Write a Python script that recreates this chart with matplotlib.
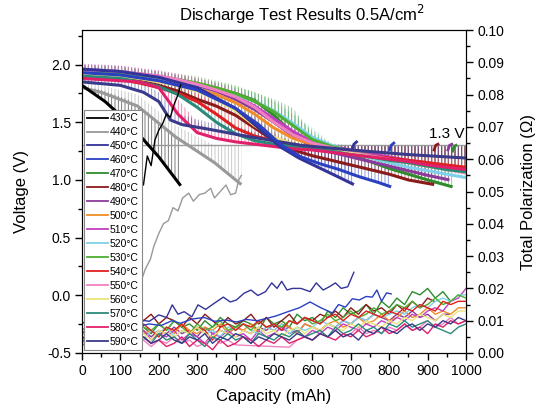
import matplotlib
matplotlib.use("Agg")
import matplotlib.pyplot as plt
from matplotlib.lines import Line2D
from matplotlib.ticker import MultipleLocator, FormatStrFormatter

plt.rcParams['font.family'] = ['Liberation Sans', 'DejaVu Sans']
plt.rcParams['hatch.linewidth'] = 0.6

temps = ["430°C", "440°C", "450°C", "460°C", "470°C", "480°C", "490°C", "500°C", "510°C",
         "520°C", "530°C", "540°C", "550°C", "560°C", "570°C", "580°C", "590°C"]
colors = ["#000000", "#999999", "#333399", "#2a40c0", "#2e8b2e", "#8b1a1a", "#8b3a9b", "#f28c28",
          "#c040c0", "#7fd0e8", "#4caf30", "#e02020", "#f080c0", "#ece47a", "#2a8a7a", "#e0206a",
          "#3a3a8a"]

grid50 = [0, 50, 100, 150, 200, 250, 300, 350, 400, 450, 500, 550, 600, 650, 700, 750, 800,
          850, 900, 950, 1000]
grid20 = [0, 20, 40, 60, 80, 100, 120, 140, 160, 180, 200, 220, 240, 260, 280, 300, 320, 340,
          360, 380, 400, 420, 440, 460, 480, 500, 520, 540, 560, 580, 600, 620, 640, 660, 680,
          700, 720, 740, 760, 780, 800, 820, 840, 860, 880, 900, 920, 940, 960, 980, 1000]

# ---- voltage (loaded) curves, capacity in mAh ----
volt_cap = [
    [0, 60, 120, 200, 257],                                   # 430
    [0, 50, 145, 245, 345, 415],                              # 440
    [0, 100, 200, 300, 400, 460, 515, 565, 615, 665, 708],    # 450
    [0, 100, 200, 300, 400, 460, 520, 570, 620, 670, 720, 770, 805],  # 460
    grid50[:19] + [965],                                      # 470
    grid50[:18] + [917],                                      # 480
    grid50[:19] + [957],                                      # 490
    grid50, grid50, grid50, grid50, grid50, grid50, grid50, grid50, grid50,  # 500-580
    [0, 100, 160, 200, 230, 260, 330, 410, 570, 700, 850, 1000],  # 590
]
volt = [
    [1.82, 1.68, 1.50, 1.20, 0.95],
    [1.80, 1.76, 1.64, 1.37, 1.15, 0.96],
    [1.96, 1.94, 1.89, 1.80, 1.62, 1.45, 1.29, 1.19, 1.11, 1.03, 0.96],
    [1.93, 1.91, 1.86, 1.78, 1.62, 1.48, 1.30, 1.20, 1.14, 1.09, 1.03, 0.98, 0.94],
    [1.92, 1.92, 1.91, 1.89, 1.87, 1.85, 1.82, 1.79, 1.75, 1.69, 1.56, 1.40, 1.32, 1.27, 1.21,
     1.16, 1.10, 1.05, 1.00, 0.94],
    [1.90, 1.89, 1.88, 1.86, 1.82, 1.77, 1.70, 1.64, 1.56, 1.45, 1.34, 1.26, 1.21, 1.17, 1.13,
     1.09, 1.05, 1.00, 0.96],
    [1.95, 1.94, 1.93, 1.91, 1.89, 1.86, 1.82, 1.77, 1.70, 1.61, 1.50, 1.38, 1.29, 1.24, 1.20,
     1.16, 1.12, 1.08, 1.04, 1.00],
    [1.92, 1.91, 1.90, 1.88, 1.86, 1.83, 1.79, 1.74, 1.67, 1.57, 1.45, 1.36, 1.31, 1.28, 1.25,
     1.22, 1.19, 1.16, 1.13, 1.10, 1.08],
    [1.96, 1.95, 1.94, 1.92, 1.90, 1.87, 1.83, 1.78, 1.72, 1.64, 1.53, 1.42, 1.33, 1.29, 1.26,
     1.23, 1.20, 1.17, 1.15, 1.12, 1.10],
    [1.93, 1.93, 1.92, 1.90, 1.88, 1.86, 1.83, 1.79, 1.74, 1.68, 1.60, 1.49, 1.37, 1.30, 1.24,
     1.19, 1.15, 1.11, 1.08, 1.05, 1.02],
    [1.94, 1.94, 1.93, 1.91, 1.89, 1.87, 1.84, 1.80, 1.75, 1.68, 1.59, 1.47, 1.35, 1.29, 1.25,
     1.21, 1.18, 1.15, 1.12, 1.09, 1.07],
    [1.90, 1.89, 1.87, 1.84, 1.80, 1.75, 1.68, 1.57, 1.45, 1.38, 1.34, 1.31, 1.28, 1.26, 1.23,
     1.21, 1.19, 1.17, 1.15, 1.13, 1.11],
    [1.95, 1.95, 1.94, 1.92, 1.90, 1.87, 1.83, 1.78, 1.72, 1.63, 1.50, 1.39, 1.32, 1.28, 1.24,
     1.21, 1.18, 1.15, 1.12, 1.09, 1.06],
    [1.92, 1.91, 1.90, 1.88, 1.85, 1.82, 1.77, 1.70, 1.60, 1.47, 1.37, 1.31, 1.28, 1.25, 1.23,
     1.20, 1.17, 1.15, 1.12, 1.09, 1.07],
    [1.90, 1.89, 1.88, 1.85, 1.81, 1.74, 1.63, 1.50, 1.40, 1.34, 1.31, 1.29, 1.27, 1.25, 1.22,
     1.20, 1.17, 1.15, 1.12, 1.09, 1.07],
    [1.88, 1.87, 1.86, 1.85, 1.80, 1.57, 1.41, 1.36, 1.33, 1.31, 1.29, 1.27, 1.26, 1.24, 1.22,
     1.20, 1.18, 1.16, 1.13, 1.11, 1.09],
    [1.85, 1.82, 1.76, 1.68, 1.52, 1.48, 1.44, 1.39, 1.30, 1.26, 1.22, 1.19],
]
# rest voltage between pulses (top of the vertical hatching)
volt_rest = [
    [1.82, 1.77, 1.70, 1.50, 1.33],
    [1.86, 1.82, 1.74, 1.47, 1.30, 1.30],
    [2.00, 1.99, 1.94, 1.86, 1.70, 1.55, 1.36, 1.30, 1.30, 1.30, 1.30],
    [1.98, 1.96, 1.92, 1.84, 1.70, 1.58, 1.40, 1.30, 1.30, 1.30, 1.30, 1.30, 1.30],
    [1.98, 1.98, 1.97, 1.95, 1.93, 1.91, 1.88, 1.85, 1.81, 1.76, 1.70, 1.62, 1.40, 1.30, 1.30,
     1.30, 1.30, 1.30, 1.30, 1.30],
    [1.95, 1.94, 1.93, 1.91, 1.88, 1.83, 1.77, 1.71, 1.64, 1.54, 1.42, 1.32, 1.30, 1.30, 1.30,
     1.30, 1.30, 1.30, 1.30],
    [2.00, 1.99, 1.98, 1.96, 1.94, 1.91, 1.87, 1.83, 1.77, 1.69, 1.59, 1.46, 1.33, 1.30, 1.30,
     1.30, 1.30, 1.30, 1.30, 1.30],
    [1.97, 1.96, 1.95, 1.93, 1.91, 1.88, 1.84, 1.79, 1.73, 1.64, 1.53, 1.42, 1.32, 1.30, 1.30,
     1.30, 1.30, 1.30, 1.30, 1.30, 1.30],
    [2.01, 2.00, 1.99, 1.97, 1.95, 1.92, 1.88, 1.84, 1.79, 1.72, 1.62, 1.50, 1.37, 1.30, 1.30,
     1.30, 1.30, 1.30, 1.30, 1.30, 1.30],
    [1.98, 1.98, 1.97, 1.95, 1.93, 1.91, 1.88, 1.85, 1.80, 1.75, 1.68, 1.58, 1.45, 1.32, 1.30,
     1.30, 1.30, 1.30, 1.30, 1.30, 1.30],
    [1.99, 1.99, 1.98, 1.96, 1.94, 1.92, 1.90, 1.86, 1.82, 1.76, 1.68, 1.57, 1.43, 1.31, 1.30,
     1.30, 1.30, 1.30, 1.30, 1.30, 1.30],
    [1.95, 1.94, 1.92, 1.89, 1.85, 1.81, 1.75, 1.66, 1.54, 1.45, 1.39, 1.34, 1.30, 1.30, 1.30,
     1.30, 1.30, 1.30, 1.30, 1.30, 1.30],
    [2.00, 2.00, 1.99, 1.97, 1.95, 1.92, 1.89, 1.84, 1.79, 1.71, 1.59, 1.46, 1.35, 1.30, 1.30,
     1.30, 1.30, 1.30, 1.30, 1.30, 1.30],
    [1.97, 1.96, 1.95, 1.93, 1.90, 1.87, 1.83, 1.77, 1.68, 1.56, 1.44, 1.35, 1.30, 1.30, 1.30,
     1.30, 1.30, 1.30, 1.30, 1.30, 1.30],
    [1.95, 1.94, 1.93, 1.90, 1.87, 1.81, 1.71, 1.59, 1.48, 1.40, 1.35, 1.31, 1.30, 1.30, 1.30,
     1.30, 1.30, 1.30, 1.30, 1.30, 1.30],
    [1.93, 1.92, 1.91, 1.90, 1.86, 1.70, 1.50, 1.42, 1.38, 1.35, 1.32, 1.30, 1.30, 1.30, 1.30,
     1.30, 1.30, 1.30, 1.30, 1.30, 1.30],
    [1.90, 1.88, 1.83, 1.76, 1.64, 1.56, 1.50, 1.45, 1.32, 1.30, 1.30, 1.30],
]
# little recovery hooks at end of discharge (index into temps)
hook_idx = [2, 3, 5, 6, 4]
hook_cap = [[704, 708, 715], [801, 805, 812], [917, 921, 927], [953, 957, 963], [965, 969, 974]]
hook_v = [[1.27, 1.31, 1.33], [1.26, 1.30, 1.32], [1.26, 1.30, 1.31], [1.26, 1.30, 1.31],
          [1.25, 1.29, 1.30]]

# ---- total polarization, mOhm ----
pol_cap = [
    [100, 140, 150, 160, 170, 180, 190, 200, 210, 220, 230, 240, 250, 257],
    [130, 140, 153, 165, 178, 187, 200, 212, 225, 237, 250, 262, 278, 290, 305, 320, 335, 345,
     360, 375, 387, 400, 408, 415],
    [140, 175, 200, 220, 235, 250, 266, 286, 302, 322, 342, 368, 386, 402, 422, 440, 458, 478,
     494, 508, 520, 534, 548, 570, 594, 610, 628, 644, 660, 675, 692, 708],
    [140, 175, 206, 234, 256, 286, 318, 346, 376, 402, 428, 456, 484, 506, 534, 566, 594, 622,
     652, 668, 686, 704, 722, 740, 756, 768, 780, 793, 805],
    grid20[:49],
    grid20[:46] + [917],
    grid20[:48] + [957],
    grid20, grid20, grid20, grid20, grid20, grid20, grid20, grid20, grid20, grid20,
]
pol_m = [
    [40, 49, 53, 52, 61, 58, 66, 69, 71, 74, 73, 77, 80, 83],
    [18, 19.5, 22, 26, 29, 33, 37, 40, 41, 45, 44, 48, 49.5, 47, 49, 49.5, 51, 48, 50, 52, 49,
     49.5, 53.5, 55],
    [10.5, 9.8, 11.8, 11.0, 14.9, 12.0, 12.8, 11.2, 14.9, 13.5, 15.2, 17.3, 15.8, 16.4, 18.5,
     19.5, 17.8, 19.0, 21.7, 20.0, 22.2, 19.5, 20.0, 20.0, 19.0, 21.7, 19.5, 20.5, 21.7, 20.0,
     20.5, 25.0],
    [8.0, 9.0, 8.5, 10.0, 9.2, 10.5, 11.0, 9.8, 10.2, 9.6, 10.4, 10.0, 10.8, 11.5, 12.7, 14.0,
     15.8, 14.0, 12.4, 15.0, 14.2, 16.8, 16.4, 17.5, 17.3, 19.5, 16.0, 18.6, 18.3],
    [6, 8, 5, 7, 9, 6, 7, 10, 8, 6, 9, 7, 10, 8, 9, 7, 10, 8, 11, 9, 8, 10, 9, 7, 11, 9, 10, 8,
     12, 10, 11, 9, 13, 11, 14, 12, 13, 15, 12, 16, 14, 17, 15, 19, 18, 20, 17, 19, 16],
    [9, 11, 8, 10, 12, 9, 11, 8, 10, 12, 9, 11, 10, 8, 11, 9, 12, 10, 8, 11, 9, 10, 12, 9, 11,
     8, 10, 12, 9, 11, 10, 12, 11, 13, 11, 14, 12, 15, 13, 14, 12, 15, 13, 16, 14, 17, 16],
    [5, 7, 6, 8, 5, 7, 6, 8, 7, 5, 7, 6, 8, 6, 7, 5, 8, 6, 7, 6, 8, 7, 6, 8, 7, 9, 7, 8, 6, 9,
     8, 7, 9, 8, 10, 9, 11, 10, 12, 11, 10, 12, 11, 13, 11, 12, 10, 12, 12],
    [5, 7, 5, 8, 6, 4, 7, 9, 6, 7, 5, 8, 6, 9, 7, 6, 8, 7, 9, 6, 8, 7, 9, 6, 8, 7, 9, 8, 6, 9,
     8, 7, 9, 10, 8, 9, 11, 9, 10, 12, 10, 11, 13, 11, 12, 14, 12, 13, 12, 14, 14],
    [4, 6, 5, 7, 4, 6, 3, 5, 7, 4, 6, 5, 7, 4, 6, 5, 3, 6, 5, 7, 5, 6, 4, 7, 5, 6, 8, 6, 7, 5,
     7, 6, 8, 7, 9, 8, 7, 9, 8, 10, 9, 11, 10, 12, 11, 13, 14, 13, 16, 17, 20],
    [6, 5, 7, 6, 8, 5, 7, 6, 4, 7, 6, 8, 5, 7, 6, 8, 6, 7, 5, 8, 7, 9, 7, 6, 8, 7, 9, 6, 8, 7,
     8, 10, 9, 8, 10, 9, 11, 10, 12, 11, 12, 13, 12, 14, 15, 14, 16, 17, 16, 18, 18],
    [7, 9, 6, 8, 10, 7, 9, 6, 8, 7, 9, 7, 10, 8, 6, 9, 7, 8, 10, 7, 8, 9, 7, 10, 8, 9, 8, 10,
     9, 11, 9, 10, 12, 10, 11, 13, 11, 12, 14, 12, 13, 15, 14, 16, 14, 15, 17, 15, 16, 18, 17],
    [6, 8, 7, 9, 6, 8, 5, 7, 9, 7, 5, 8, 7, 9, 6, 8, 7, 4, 8, 9, 7, 9, 8, 10, 8, 9, 7, 10, 9,
     11, 10, 9, 11, 12, 10, 12, 11, 13, 12, 11, 13, 12, 14, 13, 15, 14, 13, 16, 15, 16, 16],
    [4, 3, 5, 3, 4, 2, 5, 3, 4, 2, 4, 3, 5, 3, 4, 2, 3, 5, 3, 4, 2.5, 2.4, 2.3, 2.2, 2.1, 2.0,
     1.9, 1.8, 4, 5, 4, 6, 5, 7, 5, 6, 8, 6, 7, 6, 8, 7, 9, 7, 8, 10, 8, 9, 11, 9, 10],
    [5, 7, 6, 4, 6, 5, 7, 5, 6, 4, 7, 6, 5, 7, 6, 8, 6, 5, 7, 6, 5, 7, 6, 8, 6, 7, 5, 7, 8, 6,
     8, 7, 9, 8, 7, 9, 8, 10, 9, 8, 10, 9, 11, 10, 12, 11, 10, 12, 11, 13, 13],
    [3, 1, 4, 5, 3, 6, 4, 2, 5, 3, 6, 4, 5, 3, 6, 4, 2, 5, 4, 6, 4, 5, 3, 6, 5, 4, 6, 5, 7, 5,
     6, 7, 5, 8, 6, 7, 9, 7, 8, 6, 9, 8, 10, 8, 9, 10, 8, 7, 6, 8, 9],
    [4, 2, 5, 3, 1, 4, 3, 2, 5, 3, 4, 2, 3, 5, 2, 4, 3, 1, 4, 2, 3, 5, 4, 2, 4, 3, 5, 3, 4, 5,
     4, 6, 5, 4, 6, 5, 7, 5, 6, 8, 6, 7, 9, 7, 8, 6, 9, 8, 10, 9, 10],
    [5, 4, 6, 4, 5, 3, 6, 4, 5, 3, 4, 6, 4, 3, 5, 4, 6, 3, 5, 4, 6, 5, 3, 5, 4, 6, 5, 4, 6, 5,
     4, 6, 5, 7, 5, 6, 4, 7, 6, 8, 7, 6, 8, 9, 7, 9, 8, 10, 9, 11, 10],
]
pol = [[p / 1000 for p in series] for series in pol_m]

fig = plt.figure(figsize=(5.42, 4.09), dpi=100)
ax = fig.add_axes([82 / 542, 1 - 353 / 409, 384 / 542, 323 / 409])
ax2 = ax.twinx()

# hatching (pulses) first
for c, v, r, col in zip(volt_cap, volt, volt_rest, colors):
    ax.fill_between(c, v, r, facecolor='none', edgecolor=col, hatch='|||||',
                    linewidth=0, alpha=0.6, zorder=1)

ax.axhline(1.3, color='#999999', lw=1.0, zorder=1.5)
ax.text(995, 1.335, "1.3 V", ha='right', va='bottom', fontsize=11)

draw_order = [4, 5, 6, 7, 8, 9, 10, 11, 12, 13, 14, 15, 16, 2, 3, 1, 0]
for i in draw_order:
    ax.plot(volt_cap[i], volt[i], color=colors[i], lw=2.2, zorder=2, solid_capstyle='butt')
for i, hc, hv in zip(hook_idx, hook_cap, hook_v):
    ax.plot(hc, hv, color=colors[i], lw=2.0, zorder=2)

for i in draw_order:
    ax2.plot(pol_cap[i], pol[i], color=colors[i], lw=1.0)

ax.set_xlim(0, 1000)
ax.set_ylim(-0.5, 2.3)
ax2.set_ylim(0, 0.1)

ax.xaxis.set_major_locator(MultipleLocator(100))
ax.xaxis.set_minor_locator(MultipleLocator(50))
ax.yaxis.set_major_locator(MultipleLocator(0.5))
ax.yaxis.set_minor_locator(MultipleLocator(0.25))
ax.yaxis.set_major_formatter(FormatStrFormatter('%.1f'))
ax2.yaxis.set_major_locator(MultipleLocator(0.01))
ax2.yaxis.set_minor_locator(MultipleLocator(0.005))
ax2.yaxis.set_major_formatter(FormatStrFormatter('%.2f'))

for a in (ax, ax2):
    a.tick_params(which='major', length=5, width=1, labelsize=10, direction='out', pad=3)
    a.tick_params(which='minor', length=3, width=1, direction='out')

ax.set_xlabel("Capacity (mAh)", fontsize=12, labelpad=8)
ax.set_ylabel("Voltage (V)", fontsize=12, labelpad=13)
ax2.set_ylabel("Total Polarization (Ω)", fontsize=12, labelpad=12)
fig.text(302 / 542, 1 - 14 / 409, "Discharge Test Results 0.5A/cm$^2$", ha='center',
         va='center', fontsize=12)

handles = [Line2D([], [], color=col, lw=1.3) for col in colors]
leg = ax2.legend(handles, temps, loc='upper left', bbox_to_anchor=(0.005, 0.752),
                 fontsize=7.5, labelspacing=0.38, handlelength=2.0, handletextpad=0.2,
                 borderpad=0.3, borderaxespad=0, fancybox=False, framealpha=1,
                 edgecolor='#888888')
leg.get_frame().set_linewidth(0.8)

fig.savefig("out.png", dpi=100)
